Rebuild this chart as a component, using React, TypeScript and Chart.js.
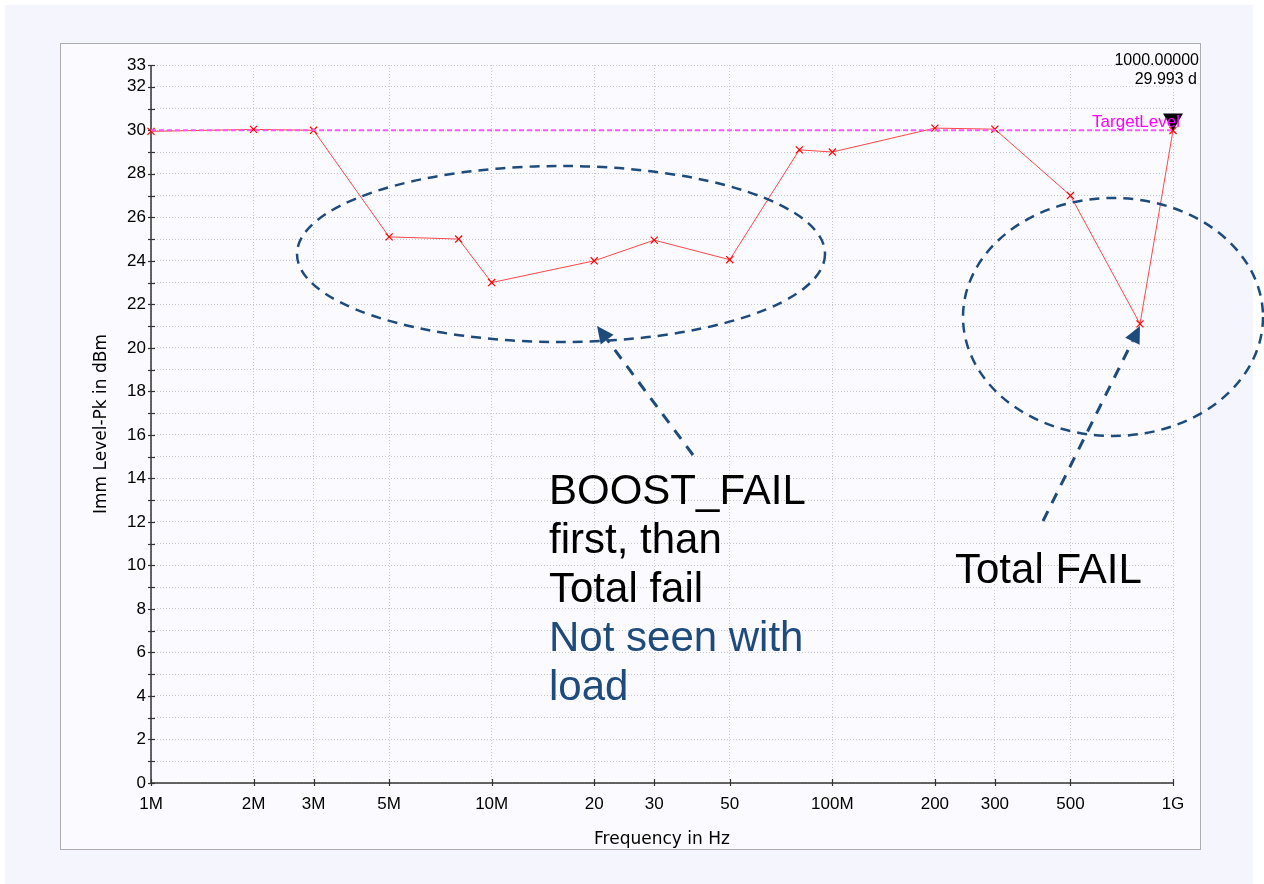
import React, { useEffect, useRef } from 'react';
import { Chart, registerables } from 'chart.js';

Chart.register(...registerables);

// ---- data ----
const frequenciesHz = [1e6, 2e6, 3e6, 5e6, 8e6, 10e6, 20e6, 30e6, 50e6, 80e6, 100e6, 200e6, 300e6, 500e6, 800e6, 1e9];
const immLevelDbm = [29.95, 30.04, 30.0, 25.1, 25.0, 23.0, 24.0, 24.95, 24.05, 29.1, 29.0, 30.1, 30.05, 27.0, 21.1, 29.993];

const targetLevelDbm = 30;
const targetRangeHz = [1e6, 1e9];

const markerFreqHz = 1e9;
const markerLevelDbm = 29.993;
const markerReadout = ['1000.00000', '29.993 d'];

const xTickValues = [1e6, 2e6, 3e6, 5e6, 10e6, 20e6, 30e6, 50e6, 100e6, 200e6, 300e6, 500e6, 1e9];
const xTickLabels = ['1M', '2M', '3M', '5M', '10M', '20', '30', '50', '100M', '200', '300', '500', '1G'];
const yLabelValues = [0, 2, 4, 6, 8, 10, 12, 14, 16, 18, 20, 22, 24, 26, 28, 30, 32, 33];

const boostNoteBlack = ['BOOST_FAIL', 'first, than', 'Total fail'];
const boostNoteBlue = ['Not seen with', 'load'];
const totalFailNote = 'Total FAIL';

const FONT = "'Liberation Sans', Arial, Helvetica, sans-serif";
const TITLE_FONT = "'DejaVu Sans', Verdana, sans-serif";
const NAVY = '#1f4b7c';

function dashedArrow(ctx: CanvasRenderingContext2D, x0: number, y0: number, x1: number, y1: number) {
  const ang = Math.atan2(y1 - y0, x1 - x0);
  const headLen = 17;
  const headHalf = 8;
  const bx = x1 - Math.cos(ang) * headLen;
  const by = y1 - Math.sin(ang) * headLen;
  ctx.save();
  ctx.strokeStyle = NAVY;
  ctx.lineWidth = 3;
  ctx.setLineDash([11, 9]);
  ctx.beginPath();
  ctx.moveTo(x0, y0);
  ctx.lineTo(bx, by);
  ctx.stroke();
  ctx.setLineDash([]);
  ctx.fillStyle = NAVY;
  ctx.beginPath();
  ctx.moveTo(x1, y1);
  ctx.lineTo(bx + Math.sin(ang) * headHalf, by - Math.cos(ang) * headHalf);
  ctx.lineTo(bx - Math.sin(ang) * headHalf, by + Math.cos(ang) * headHalf);
  ctx.closePath();
  ctx.fill();
  ctx.restore();
}

function dashedEllipse(ctx: CanvasRenderingContext2D, cx: number, cy: number, rx: number, ry: number) {
  ctx.save();
  ctx.strokeStyle = NAVY;
  ctx.lineWidth = 2.5;
  ctx.setLineDash([10, 7]);
  ctx.beginPath();
  ctx.ellipse(cx, cy, rx, ry, 0, 0, Math.PI * 2);
  ctx.stroke();
  ctx.restore();
}

const decorPlugin = {
  id: 'decor',
  beforeDraw(chart: any) {
    const ctx: CanvasRenderingContext2D = chart.ctx;
    ctx.save();
    ctx.fillStyle = '#ffffff';
    ctx.fillRect(0, 0, chart.width, chart.height);
    ctx.fillStyle = '#f4f5fd';
    ctx.fillRect(5, 5, 1248, chart.height - 5);
    ctx.fillStyle = '#fbfbff';
    ctx.fillRect(60, 43, 1140, 806);
    ctx.strokeStyle = '#ababb0';
    ctx.lineWidth = 1;
    ctx.strokeRect(60.5, 43.5, 1140, 806);
    ctx.restore();
  },
  beforeDatasetsDraw(chart: any) {
    const ctx: CanvasRenderingContext2D = chart.ctx;
    const xs = chart.scales.x;
    const ys = chart.scales.y;
    const area = chart.chartArea;
    ctx.save();
    ctx.setLineDash([]);
    ctx.strokeStyle = '#333';
    ctx.lineWidth = 1.5;
    ctx.beginPath();
    ctx.moveTo(area.left, area.top);
    ctx.lineTo(area.left, area.bottom);
    ctx.lineTo(area.right, area.bottom);
    ctx.stroke();
    ctx.lineWidth = 1.2;
    for (let v = 0; v <= 33; v++) {
      const y = Math.round(ys.getPixelForValue(v)) + 0.5;
      ctx.beginPath();
      ctx.moveTo(area.left - 3, y);
      ctx.lineTo(area.left + 4, y);
      ctx.stroke();
    }
    for (const f of xTickValues) {
      const x = Math.round(xs.getPixelForValue(f)) + 0.5;
      ctx.beginPath();
      ctx.moveTo(x, area.bottom - 4);
      ctx.lineTo(x, area.bottom + 3);
      ctx.stroke();
    }
    ctx.restore();
  },
  afterDraw(chart: any) {
    const ctx: CanvasRenderingContext2D = chart.ctx;
    const xs = chart.scales.x;
    const ys = chart.scales.y;
    const area = chart.chartArea;
    ctx.save();
    ctx.setLineDash([]);

    // marker triangle
    const mx = xs.getPixelForValue(markerFreqHz);
    const my = ys.getPixelForValue(markerLevelDbm);
    ctx.fillStyle = '#000';
    ctx.beginPath();
    ctx.moveTo(mx, my);
    ctx.lineTo(mx - 10, my - 17);
    ctx.lineTo(mx + 10, my - 17);
    ctx.closePath();
    ctx.fill();

    // target level label
    const ty = ys.getPixelForValue(targetLevelDbm);
    ctx.fillStyle = '#ff00ff';
    ctx.font = `17px ${FONT}`;
    ctx.textAlign = 'right';
    ctx.textBaseline = 'alphabetic';
    ctx.fillText('TargetLevel', area.right + 7, ty - 3);

    // marker readout
    ctx.fillStyle = '#000';
    ctx.font = `16px ${FONT}`;
    ctx.textAlign = 'right';
    ctx.fillText(markerReadout[0], 1199, 65);
    ctx.fillText(markerReadout[1], 1197, 84);

    // ellipses & arrows
    dashedEllipse(ctx, 561, 254, 264, 88);
    dashedEllipse(ctx, 1113, 317, 150, 119);
    dashedArrow(ctx, 693, 455, 597, 326);
    dashedArrow(ctx, 1043, 521, 1140, 326);

    // notes
    ctx.font = `42px ${FONT}`;
    ctx.textAlign = 'left';
    ctx.fillStyle = '#000';
    boostNoteBlack.forEach((t, i) => ctx.fillText(t, 549, 504 + i * 49));
    ctx.fillStyle = NAVY;
    boostNoteBlue.forEach((t, i) => ctx.fillText(t, 549, 651 + i * 49));
    ctx.fillStyle = '#000';
    ctx.fillText(totalFailNote, 955, 583);
    ctx.restore();
  },
};

const gridOpts = { color: '#c9c9d3', lineWidth: 1, drawTicks: false };
const borderOpts = { display: false, dash: [1, 2] };

export default function App() {
  const ref = useRef<HTMLCanvasElement | null>(null);
  useEffect(() => {
    if (!ref.current) return;
    const chart = new Chart(ref.current, {
      type: 'scatter',
      data: {
        datasets: [
          {
            label: 'TargetLevel',
            data: targetRangeHz.map((f) => ({ x: f, y: targetLevelDbm })),
            showLine: true,
            borderColor: '#ff55ff',
            borderWidth: 2,
            borderDash: [5, 3],
            pointRadius: 0,
            clip: false as any,
          },
          {
            label: 'Imm Level-Pk',
            data: frequenciesHz.map((f, i) => ({ x: f, y: immLevelDbm[i] })),
            showLine: true,
            borderColor: 'rgba(255,40,40,0.85)',
            borderWidth: 1,
            pointStyle: 'crossRot',
            pointRadius: 5,
            pointBorderColor: '#ff0000',
            pointBorderWidth: 1.2,
            pointBackgroundColor: '#ff0000',
            clip: false as any,
          },
        ],
      },
      options: {
        responsive: false,
        animation: false,
        devicePixelRatio: 1,
        layout: { padding: { left: 91, right: 91, top: 65, bottom: 34 } },
        plugins: {
          legend: { display: false },
          tooltip: { enabled: false },
        },
        scales: {
          x: {
            type: 'logarithmic',
            min: 1e6,
            max: 1e9,
            afterBuildTicks: (scale: any) => {
              scale.ticks = xTickValues.map((value) => ({ value }));
            },
            afterFit: (scale: any) => {
              scale.height = 67;
            },
            ticks: {
              autoSkip: false,
              maxRotation: 0,
              padding: 11,
              color: '#000',
              font: { family: FONT, size: 17 },
              callback: (_v: any, i: number) => xTickLabels[i],
            },
            grid: gridOpts,
            border: borderOpts,
            title: {
              display: true,
              text: 'Frequency in Hz',
              color: '#000',
              font: { family: TITLE_FONT, size: 17 },
              padding: 0,
            },
          },
          y: {
            type: 'linear',
            min: 0,
            max: 33,
            afterFit: (scale: any) => {
              scale.width = 60;
            },
            ticks: {
              stepSize: 1,
              autoSkip: false,
              padding: 5,
              color: '#000',
              font: { family: FONT, size: 17 },
              callback: (v: any) => (yLabelValues.includes(Number(v)) ? String(v) : ''),
            },
            grid: gridOpts,
            border: borderOpts,
            title: {
              display: true,
              text: 'Imm Level-Pk in dBm',
              color: '#000',
              font: { family: TITLE_FONT, size: 17 },
              padding: 0,
            },
          },
        },
      } as any,
      plugins: [decorPlugin],
    });
    return () => chart.destroy();
  }, []);
  return (
    <div style={{ position: 'absolute', left: 0, top: 0, width: 1264, height: 884 }}>
      <canvas ref={ref} width={1264} height={884} />
    </div>
  );
}
